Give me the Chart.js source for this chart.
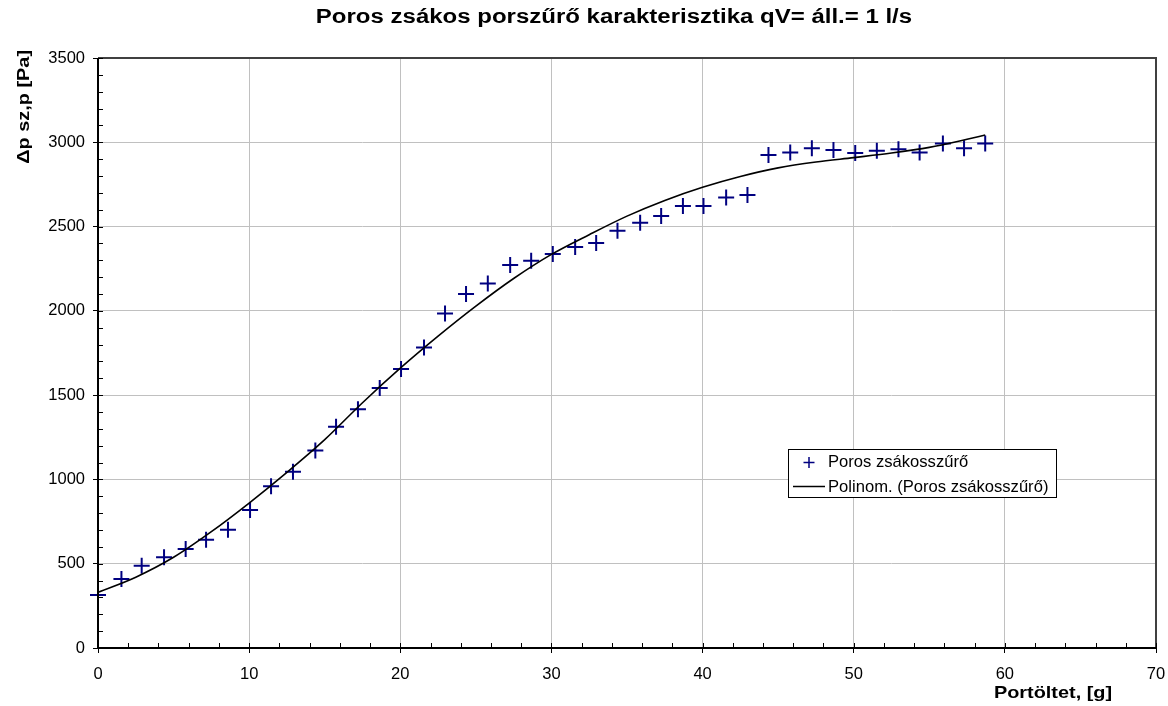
<!DOCTYPE html>
<html>
<head>
<meta charset="utf-8">
<script src="https://cdn.jsdelivr.net/npm/chart.js@4.4.1/dist/chart.umd.min.js"></script>
<style>
  html, body { margin: 0; padding: 0; background: #fff; }
  #wrap { width: 1168px; height: 706px; }
</style>
</head>
<body>
<div id="wrap"><canvas id="chart" width="1168" height="706"></canvas></div>
<script>
const chartTitle = 'Poros zsákos porszűrő karakterisztika qV= áll.= 1 l/s';
const xTitle = 'Portöltet, [g]';
const yTitle = 'Δp sz,p [Pa]';
const seriesLabel = 'Poros zsákosszűrő';
const trendLabel = 'Polinom. (Poros zsákosszűrő)';

// measured points
const dustLoad = [0, 1.55, 2.89, 4.37, 5.8, 7.15, 8.6, 10.06, 11.45, 12.9, 14.38, 15.75, 17.2, 18.64,
    20.05, 21.57, 22.96, 24.35, 25.79, 27.27, 28.66, 30.09, 31.57, 32.96, 34.37, 35.87, 37.26, 38.7,
    40.06, 41.56, 42.97, 44.36, 45.8, 47.23, 48.66, 50.1, 51.53, 52.96, 54.36, 55.9, 57.3, 58.7];
const pressure = [314, 409, 488, 538, 587, 642, 702, 818, 959, 1046, 1172, 1313, 1416, 1543,
    1655, 1783, 1985, 2100, 2163, 2272, 2297, 2337, 2379, 2402, 2475, 2523, 2562, 2622,
    2622, 2673, 2687, 2924, 2940, 2964, 2954, 2937, 2950, 2958, 2940, 2993, 2964, 2993];

// polynomial trendline
const trendX = [0, 2.5, 5, 7.5, 10, 12.5, 15, 17.5, 20, 22.5, 25, 27.5, 30, 32.5, 35, 37.5, 40,
    42.5, 45, 47.5, 50, 52.5, 55, 57.5, 58.7];
const trendY = [330, 420, 538, 690, 860, 1042, 1236, 1455, 1660, 1850, 2028, 2192, 2335, 2452, 2562,
    2655, 2733, 2797, 2848, 2883, 2909, 2936, 2970, 3018, 3043];

const xTicks = [0, 10, 20, 30, 40, 50, 60, 70];
const yTicks = [0, 500, 1000, 1500, 2000, 2500, 3000, 3500];

const FONT = "'Liberation Sans', Arial, sans-serif";
const markColor = '#000080';

// draws text a bit wider than the font, like the original
function wideText(ctx, text, x, y, sx) {
    ctx.save();
    ctx.translate(x, y);
    ctx.scale(sx, 1);
    ctx.fillText(text, 0, 0);
    ctx.restore();
}

// frame, inner tick marks, titles and legend
const decor = {
    id: 'decor',
    afterDraw(chart) {
        const ctx = chart.ctx;
        const a = chart.chartArea;
        const xs = chart.scales.x, ys = chart.scales.y;
        ctx.save();

        ctx.strokeStyle = '#404040';
        ctx.lineWidth = 2;
        ctx.beginPath();
        ctx.moveTo(a.left, a.top); ctx.lineTo(a.right, a.top); ctx.lineTo(a.right, a.bottom);
        ctx.stroke();

        ctx.strokeStyle = '#000';
        ctx.beginPath();
        ctx.moveTo(a.left, a.top); ctx.lineTo(a.left, a.bottom); ctx.lineTo(a.right, a.bottom);
        ctx.stroke();

        ctx.lineWidth = 1;
        ctx.beginPath();
        for (let v = 0; v <= 70; v += 2) {
            const px = Math.round(xs.getPixelForValue(v)) + 0.5;
            ctx.moveTo(px, a.bottom); ctx.lineTo(px, a.bottom - 5);
        }
        for (let v = 0; v <= 3500; v += 100) {
            const py = Math.round(ys.getPixelForValue(v)) + 0.5;
            ctx.moveTo(a.left, py); ctx.lineTo(a.left + 5, py);
        }
        ctx.stroke();

        ctx.fillStyle = '#000';
        ctx.textAlign = 'center';
        ctx.textBaseline = 'middle';
        ctx.font = 'bold 20px ' + FONT;
        wideText(ctx, chartTitle, 614, 17, 1.2);

        ctx.font = 'bold 17px ' + FONT;
        wideText(ctx, xTitle, 1053, 693, 1.17);

        ctx.save();
        ctx.translate(24, 50);
        ctx.rotate(-Math.PI / 2);
        ctx.textAlign = 'right';
        wideText(ctx, yTitle, 0, 0, 1.17);
        ctx.restore();

        // legend
        const lx = 788, ly = 449, lw = 268, lh = 48;
        ctx.fillStyle = '#fff';
        ctx.fillRect(lx, ly, lw, lh);
        ctx.strokeStyle = '#000';
        ctx.lineWidth = 1;
        ctx.strokeRect(lx + 0.5, ly + 0.5, lw, lh);
        const ds = chart.data.datasets;
        ctx.strokeStyle = ds[1].borderColor;
        ctx.lineWidth = 1.5;
        ctx.beginPath();
        ctx.moveTo(809, 457); ctx.lineTo(809, 468);
        ctx.moveTo(803.5, 462.5); ctx.lineTo(814.5, 462.5);
        ctx.stroke();
        ctx.strokeStyle = ds[0].borderColor;
        ctx.beginPath();
        ctx.moveTo(793, 486.5); ctx.lineTo(825, 486.5);
        ctx.stroke();
        ctx.fillStyle = '#000';
        ctx.font = '16.6px ' + FONT;
        ctx.textAlign = 'left';
        ctx.fillText(ds[1].label, 828, 462);
        ctx.fillText(ds[0].label, 828, 487);

        ctx.restore();
    }
};

new Chart(document.getElementById('chart'), {
    type: 'scatter',
    data: {
        datasets: [
            {
                label: trendLabel,
                data: trendX.map((x, i) => ({ x, y: trendY[i] })),
                showLine: true,
                borderColor: '#000',
                borderWidth: 1.6,
                pointRadius: 0,
                cubicInterpolationMode: 'monotone',
                order: 0
            },
            {
                label: seriesLabel,
                data: dustLoad.map((x, i) => ({ x, y: pressure[i] })),
                pointStyle: 'cross',
                pointRadius: 8,
                pointBorderWidth: 2,
                borderColor: markColor,
                backgroundColor: markColor,
                showLine: false,
                clip: false,
                order: 1
            }
        ]
    },
    options: {
        responsive: false,
        animation: false,
        layout: { padding: { top: 58, right: 12, left: 0, bottom: 0 } },
        plugins: { legend: { display: false }, tooltip: { enabled: false }, title: { display: false } },
        scales: {
            x: {
                type: 'linear', min: 0, max: 70,
                afterBuildTicks: s => { s.ticks = xTicks.map(v => ({ value: v })); },
                afterFit: s => { s.height = 58; s.paddingLeft = 0; s.paddingRight = 0; },
                ticks: { color: '#000', font: { family: FONT, size: 16.5 }, padding: 12, maxRotation: 0 },
                grid: { color: '#c0c0c0', lineWidth: 1, tickLength: 5, tickColor: '#000' },
                border: { display: false }
            },
            y: {
                min: 0, max: 3500,
                afterBuildTicks: s => { s.ticks = yTicks.map(v => ({ value: v })); },
                afterFit: s => { s.width = 98; s.paddingTop = 0; s.paddingBottom = 0; },
                ticks: {
                    color: '#000', font: { family: FONT, size: 16.5 }, padding: 8,
                    callback: v => String(v)
                },
                grid: { color: '#c0c0c0', lineWidth: 1, tickLength: 5, tickColor: '#000' },
                border: { display: false }
            }
        }
    },
    plugins: [decor]
});
</script>
</body>
</html>
